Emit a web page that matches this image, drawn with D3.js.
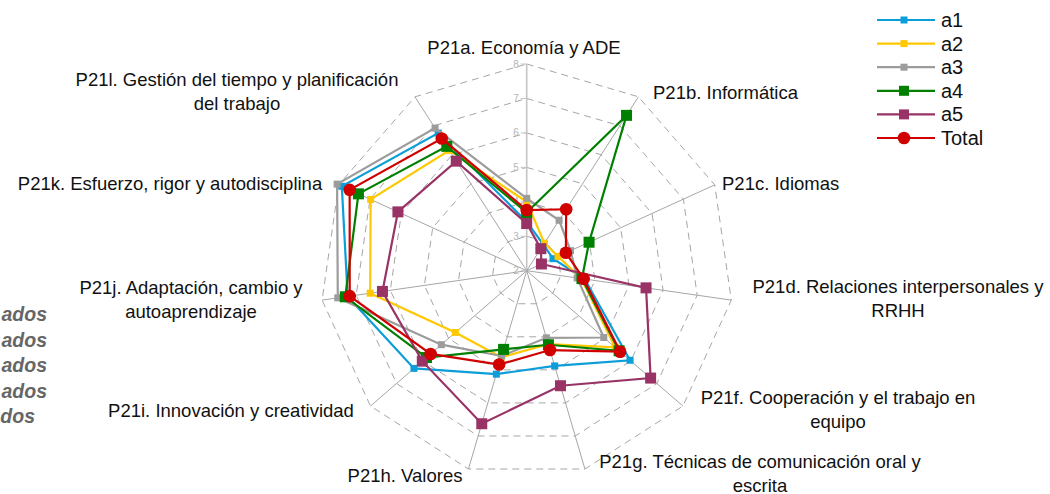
<!DOCTYPE html>
<html>
<head>
<meta charset="utf-8">
<script src="https://cdn.jsdelivr.net/npm/d3@7"></script>
<style>
  body { margin: 0; background: #fff; }
  svg { display: block; font-family: "Liberation Sans", Arial, sans-serif; }
</style>
</head>
<body>
<div id="chart"></div>
<script>
// ------- Data -------
const axisLabels = [
  ["P21a. Economía y ADE"],
  ["P21b. Informática"],
  ["P21c. Idiomas"],
  ["P21d. Relaciones interpersonales y", "RRHH"],
  ["P21f. Cooperación y el trabajo en", "equipo"],
  ["P21g. Técnicas de comunicación oral y", "escrita"],
  ["P21h. Valores"],
  ["P21i. Innovación y creatividad"],
  ["P21j. Adaptación, cambio y", "autoaprendizaje"],
  ["P21k. Esfuerzo, rigor y autodisciplina"],
  ["P21l. Gestión del tiempo y planificación", "del trabajo"]
];

const seriesNames = ["a1", "a2", "a3", "a4", "a5", "Total"];

const a1 = [3.42, 2.90, 2.84, 3.70, 5.97, 4.88, 5.13, 6.33, 7.25, 7.90, 6.75];
const a2 = [4.00, 2.95, 3.00, 3.60, 5.40, 4.22, 4.62, 4.74, 6.59, 6.98, 6.15];
const a3 = [4.10, 3.74, 3.40, 3.48, 4.96, 4.03, 4.58, 5.28, 7.54, 8.05, 6.92];
const a4 = [3.69, 7.36, 3.99, 3.62, 5.55, 4.24, 4.38, 5.85, 7.32, 7.37, 6.29];
const a5 = [3.37, 2.76, 2.47, 5.50, 6.76, 5.48, 6.63, 6.01, 6.23, 6.11, 5.78];
const total = [3.76, 4.12, 3.25, 3.67, 5.59, 4.40, 4.84, 5.69, 7.19, 7.65, 6.56];

const tickValues = [2, 3, 4, 5, 6, 7, 8];

// partly hidden text at the left edge
const sideText = ["ados", "ados", "ados", "ados", "dos"];

// ------- Layout -------
const W = 1050, H = 494;
const cx = 526.7, cy = 270.7, R = 206.7;

// label block centres (x) and first baseline (y)
const labelPos = [
  [524, 54], [653, 99], [722, 190], [898, 293], [838, 404], [760, 468],
  [405, 482], [231, 417], [191, 294], [170, 190], [237, 86]
];
const labelAnchor = ["middle", "start", "start", "middle", "middle", "middle",
  "middle", "middle", "middle", "middle", "middle"];

const colors = ["#0c9ed9", "#ffc800", "#9c9c9c", "#008000", "#993366", "#d00000"];
const markerSize = [7, 7, 7, 11, 11, 0];

const svg = d3.select("#chart").append("svg")
  .attr("width", W).attr("height", H);

const r = d3.scaleLinear().domain([2, 8]).range([0, R]);
const n = axisLabels.length;
const angle = d3.scaleLinear().domain([0, n]).range([0, 2 * Math.PI]);

const pt = (i, v) => [cx + r(v) * Math.sin(angle(i)), cy - r(v) * Math.cos(angle(i))];

// ------- Grid -------
const grid = svg.append("g");

tickValues.slice(1).forEach(v => {
  grid.append("polygon")
    .attr("points", d3.range(n).map(i => pt(i, v).join(",")).join(" "))
    .attr("fill", "none")
    .attr("stroke", "#a6a6a6")
    .attr("stroke-width", 1)
    .attr("stroke-dasharray", "7,5");
});

d3.range(n).forEach(i => {
  const [x, y] = pt(i, 8);
  grid.append("line")
    .attr("x1", cx).attr("y1", cy).attr("x2", x).attr("y2", y)
    .attr("stroke", i === 0 ? "#c4c4c4" : "#a6a6a6")
    .attr("stroke-width", i === 0 ? 1.6 : 1);
});

// value axis ticks + labels
tickValues.forEach(v => {
  const [x, y] = pt(0, v);
  grid.append("line")
    .attr("x1", x - 6).attr("x2", x).attr("y1", y).attr("y2", y)
    .attr("stroke", "#c4c4c4");
  grid.append("text")
    .attr("x", x - 8).attr("y", y + 3.5)
    .attr("text-anchor", "end")
    .attr("font-size", 10)
    .attr("fill", "#b5b5b5")
    .text(v);
});

// ------- Axis labels -------
axisLabels.forEach((lines, i) => {
  const t = svg.append("text")
    .attr("font-size", 18.5)
    .attr("fill", "#111")
    .attr("text-anchor", labelAnchor[i]);
  lines.forEach((line, k) => {
    t.append("tspan")
      .attr("x", labelPos[i][0])
      .attr("y", labelPos[i][1] + k * 23.5)
      .text(line);
  });
});

// ------- Series -------
const data = [a1, a2, a3, a4, a5, total];

data.forEach((vals, s) => {
  const g = svg.append("g");
  const pts = vals.map((v, i) => pt(i, v));
  g.append("path")
    .attr("d", d3.line().curve(d3.curveLinearClosed)(pts))
    .attr("fill", "none")
    .attr("stroke", colors[s])
    .attr("stroke-width", 2.2);
  pts.forEach(p => {
    if (seriesNames[s] === "Total") {
      g.append("circle")
        .attr("cx", p[0]).attr("cy", p[1]).attr("r", 6.3)
        .attr("fill", colors[s]);
    } else {
      const m = markerSize[s];
      g.append("rect")
        .attr("x", p[0] - m / 2).attr("y", p[1] - m / 2)
        .attr("width", m).attr("height", m)
        .attr("fill", colors[s]);
    }
  });
});

// ------- Legend -------
const legend = svg.append("g");
seriesNames.forEach((name, s) => {
  const y = 20 + s * 23.6;
  legend.append("line")
    .attr("x1", 877).attr("x2", 935).attr("y1", y).attr("y2", y)
    .attr("stroke", colors[s]).attr("stroke-width", 2.2);
  if (name === "Total") {
    legend.append("circle").attr("cx", 904).attr("cy", y).attr("r", 6.3)
      .attr("fill", colors[s]);
  } else {
    const m = markerSize[s] === 7 ? 7 : 10;
    legend.append("rect")
      .attr("x", 904 - m / 2).attr("y", y - m / 2)
      .attr("width", m).attr("height", m)
      .attr("fill", colors[s]);
  }
  legend.append("text")
    .attr("x", 941).attr("y", y + 7)
    .attr("font-size", 20)
    .attr("fill", "#111")
    .text(name);
});

// ------- Left side text -------
sideText.forEach((t, k) => {
  svg.append("text")
    .attr("x", k === 4 ? 35 : 47)
    .attr("y", 321 + k * 25.5)
    .attr("text-anchor", "end")
    .attr("font-size", 19.5)
    .attr("font-weight", "bold")
    .attr("font-style", "italic")
    .attr("fill", "#666")
    .text(t);
});
</script>
</body>
</html>
